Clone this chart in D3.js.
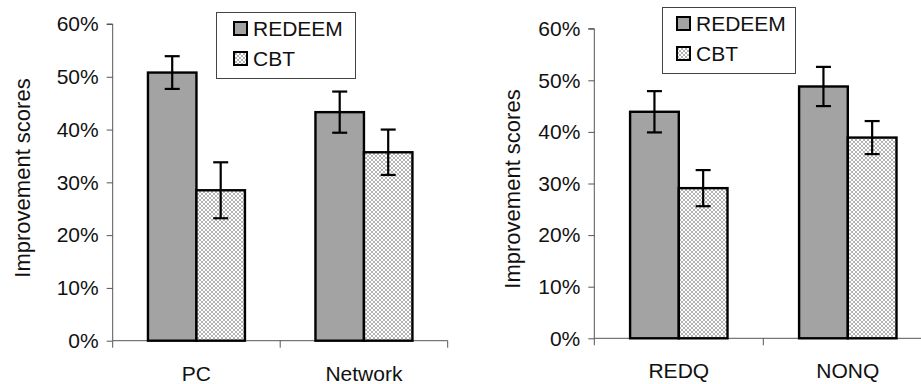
<!DOCTYPE html>
<html>
  <head>
    <meta charset="utf-8">
    <script src="https://d3js.org/d3.v7.min.js"></script>
    <title>Improvement scores</title>
    <style>
      body { margin: 0; background: white; }
      svg { display: block; font-family: Arial, "Liberation Sans", sans-serif; }
    </style>
  </head>
  <body>
  <script>
    // data
    var series = ["REDEEM", "CBT"];
    var yTicks = [0, 0.1, 0.2, 0.3, 0.4, 0.5, 0.6];

    var leftCats = ["PC", "Network"];
    var leftRedeem = [0.508, 0.433];
    var leftRedeemErr = [0.031, 0.039];
    var leftCbt = [0.285, 0.357];
    var leftCbtErr = [0.053, 0.043];

    var rightCats = ["REDQ", "NONQ"];
    var rightRedeem = [0.439, 0.488];
    var rightRedeemErr = [0.040, 0.038];
    var rightCbt = [0.291, 0.389];
    var rightCbtErr = [0.035, 0.032];

    var width = 921, height = 384;

    var svg = d3.select("body").append("svg")
      .attr("width", width)
      .attr("height", height);

    var defs = svg.append("defs");
    var pat = defs.append("pattern")
      .attr("id", "hatch")
      .attr("patternUnits", "userSpaceOnUse")
      .attr("width", 4)
      .attr("height", 4);
    pat.append("rect").attr("width", 4).attr("height", 4).attr("fill", "white");
    pat.append("path")
      .attr("d", "M0,0 L4,4 M4,0 L0,4")
      .attr("stroke", "#b4b4b4")
      .attr("stroke-width", 1);

    function fillFor(s) {
      return s == "REDEEM" ? "#a3a3a3" : "url(#hatch)";
    }

    function drawChart(cfg) {
      var g = svg.append("g");

      var y = d3.scaleLinear().domain([0, 0.6]).range([cfg.y0, cfg.y1]);
      var x = d3.scaleBand().domain(cfg.cats).range([cfg.x0, cfg.x1]);
      var xs = d3.scaleBand().domain(series).range([0, x.bandwidth()])
        .paddingInner(0).paddingOuter(cfg.pad);

      var rows = [];
      cfg.cats.forEach(function(c, i) {
        rows.push({cat: c, s: "REDEEM", v: cfg.redeem[i], e: cfg.redeemErr[i]});
        rows.push({cat: c, s: "CBT", v: cfg.cbt[i], e: cfg.cbtErr[i]});
      });

      // y axis
      var yAxis = d3.axisLeft(y).tickValues(yTicks)
        .tickFormat(d3.format(".0%")).tickSize(6).tickPadding(8);
      var ya = g.append("g")
        .attr("transform", "translate(" + cfg.x0 + ",0)")
        .call(yAxis);
      ya.select(".domain").attr("stroke", "#555").attr("d", "M-6," + cfg.y1 + "H0V" + cfg.y0);
      ya.selectAll(".tick line").attr("stroke", "#555");
      ya.selectAll(".tick text")
        .attr("font-size", 21)
        .attr("fill", "#111");

      // x axis line with ticks between categories
      var xa = g.append("g");
      xa.append("line")
        .attr("x1", cfg.x0).attr("x2", cfg.xEnd)
        .attr("y1", y(0)).attr("y2", y(0))
        .attr("stroke", "#555");
      var bounds = cfg.cats.map(function(c) { return x(c); });
      bounds.push(cfg.x1);
      xa.selectAll(".xt").data(bounds).enter().append("line")
        .attr("x1", function(d) { return d; })
        .attr("x2", function(d) { return d; })
        .attr("y1", y(0)).attr("y2", y(0) + 7)
        .attr("stroke", "#555");
      xa.selectAll(".xl").data(cfg.cats).enter().append("text")
        .attr("x", function(d) { return x(d) + x.bandwidth() / 2; })
        .attr("y", cfg.catY)
        .attr("text-anchor", "middle")
        .attr("font-size", 21)
        .attr("fill", "#111")
        .text(function(d) { return d; });

      // bars
      g.selectAll(".bar").data(rows).enter().append("rect")
        .attr("class", "bar")
        .attr("x", function(d) { return x(d.cat) + xs(d.s); })
        .attr("width", xs.bandwidth())
        .attr("y", function(d) { return y(d.v); })
        .attr("height", function(d) { return y(0) - y(d.v); })
        .attr("fill", function(d) { return fillFor(d.s); })
        .attr("stroke", "black")
        .attr("stroke-width", 2.4);

      // error bars
      var eb = g.selectAll(".err").data(rows).enter().append("g")
        .attr("transform", function(d) {
          return "translate(" + (x(d.cat) + xs(d.s) + xs.bandwidth() / 2) + ",0)";
        });
      eb.append("line")
        .attr("y1", function(d) { return y(d.v + d.e); })
        .attr("y2", function(d) { return y(d.v - d.e); })
        .attr("stroke", "black").attr("stroke-width", 2.2);
      eb.append("line")
        .attr("x1", -7.5).attr("x2", 7.5)
        .attr("y1", function(d) { return y(d.v + d.e); })
        .attr("y2", function(d) { return y(d.v + d.e); })
        .attr("stroke", "black").attr("stroke-width", 2.2);
      eb.append("line")
        .attr("x1", -7.5).attr("x2", 7.5)
        .attr("y1", function(d) { return y(d.v - d.e); })
        .attr("y2", function(d) { return y(d.v - d.e); })
        .attr("stroke", "black").attr("stroke-width", 2.2);

      // y label
      g.append("text")
        .attr("transform", "translate(" + cfg.labX + "," + cfg.labY + ") rotate(-90)")
        .attr("text-anchor", "middle")
        .attr("dominant-baseline", "central")
        .attr("font-size", 22)
        .attr("fill", "#111")
        .text("Improvement scores");

      // legend
      var lg = g.append("g").attr("transform", "translate(" + cfg.lx + "," + cfg.ly + ")");
      lg.append("rect")
        .attr("x", 0.5).attr("y", 0.5)
        .attr("width", cfg.lw).attr("height", 66)
        .attr("fill", "white").attr("stroke", "#444").attr("stroke-width", 1);
      var items = lg.selectAll(".li").data(series).enter().append("g")
        .attr("transform", function(d, i) { return "translate(0," + (i * 30) + ")"; });
      items.append("rect")
        .attr("x", cfg.sw).attr("y", 10)
        .attr("width", 13).attr("height", 13)
        .attr("fill", function(d) { return fillFor(d); })
        .attr("stroke", "black").attr("stroke-width", 2);
      items.append("text")
        .attr("x", cfg.sw + 19).attr("y", 24)
        .attr("font-size", 21)
        .attr("fill", "#111")
        .text(function(d) { return d; });
    }

    drawChart({
      cats: leftCats, redeem: leftRedeem, redeemErr: leftRedeemErr,
      cbt: leftCbt, cbtErr: leftCbtErr,
      x0: 112.7, x1: 447.7, xEnd: 447.7, y0: 340.7, y1: 24, pad: 0.727,
      catY: 381, labX: 22, labY: 178,
      lx: 216, ly: 12, lw: 139, sw: 18
    });

    drawChart({
      cats: rightCats, redeem: rightRedeem, redeemErr: rightRedeemErr,
      cbt: rightCbt, cbtErr: rightCbtErr,
      x0: 594.3, x1: 932.3, xEnd: 921, y0: 338.3, y1: 28.7, pad: 0.735,
      catY: 378, labX: 512.7, labY: 189,
      lx: 662, ly: 7, lw: 133, sw: 15
    });
  </script>
</body>
</html>
